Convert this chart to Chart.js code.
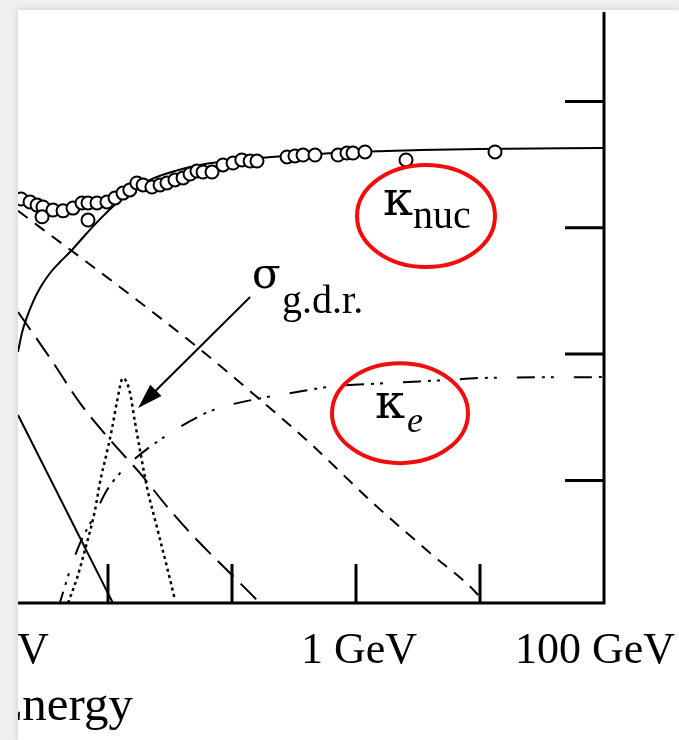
<!DOCTYPE html>
<html>
<head>
<meta charset="utf-8">
<title>Photon cross sections, Pb</title>
<script src="https://cdn.jsdelivr.net/npm/chart.js@4.4.1/dist/chart.umd.min.js"></script>
<style>
  html, body { margin:0; padding:0; background:#efefef; overflow:hidden; }
  #wrap { position:absolute; left:18px; top:10px; width:661px; height:730px; background:#fff;
          box-shadow:0 0 7px rgba(0,0,0,.14); }
  canvas { display:block; }
</style>
</head>
<body>
<div id="wrap"><canvas id="xsec" width="661" height="730"></canvas></div>
<script>
/* photon cross sections in lead
   energy in MeV, cross section in barns/atom, both on log axes */
const X_MIN = 1.88, X_MAX = 1e5;
const Y_MIN = 0.0107, Y_MAX = 510;

const xTickValues = [10, 100, 1000, 10000];
const yTickValues = [0.1, 1, 10, 100];
const xLabelValues = [1, 1000, 1e5];
const xLabelText = ['1 MeV', '1 GeV', '100 GeV'];

// measured total cross section (open circles)
const totE = [1.99,2.35,2.68,2.99,2.94,3.60,4.34,5.22,6.17,6.90,6.90,8.15,9.81,11.4,13.2,15.0,17.1,19.2,22.6,26.3,
              29.9,34.7,40.3,45.9,52.2,58.4,69.0,84.6,102,120,140,159,278,322,374,467,716,846,946,1182,2531,13213];
const totSigma = [16.9,16.0,15.1,14.6,12.2,13.8,13.6,14.3,15.7,15.7,11.5,15.7,16.0,17.2,18.8,19.9,22.6,21.8,21.0,21.8,
                  22.6,23.9,24.8,26.6,28.1,27.6,27.6,31.4,32.5,34.4,33.7,33.7,36.3,37.0,37.6,37.6,37.6,39.0,39.0,39.8,34.4,39.8];

// pair production, nuclear field
const kNucE = [1.88,2.03,2.22,2.48,2.83,3.41,4.10,4.94,6.77,8.62,11.8,15.9,21.8,34.7,55.2,140,354,981,3282,10000,100000];
const kNucSigma = [1.04,1.49,1.96,2.58,3.33,4.38,5.35,6.42,9.08,11.7,15.7,19.9,23.9,28.1,31.4,35.0,37.6,39.8,41.2,42.0,42.8];

// pair production, electron field
const kElecE = [3.95,4.94,5.95,7.57,9.81,12.5,15.0,21.8,40.3,70.3,192,334,584,1778,5418,10000,100000];
const kElecSigma = [0.0096,0.0195,0.0319,0.0503,0.0838,0.114,0.137,0.184,0.274,0.360,0.457,0.500,0.548,0.589,0.623,0.646,0.657];

// Rayleigh, photoelectric, Compton
const rayleighE = [1.88, 11.6];
const rayleighSigma = [0.329, 0.00957];
const photoE = [1.88,3.41,5.95,10.4,18.1,31.6,52.2,96.3,168];
const photoSigma = [2.15,0.93,0.409,0.209,0.114,0.0582,0.0337,0.0185,0.0107];
const comptonE = [1.88,2.48,5.95,15.9,52.2,159,426,1371,3954,10000,10772];
const comptonSigma = [13.6,11.1,5.86,2.83,1.14,0.457,0.197,0.0661,0.0266,0.0119,0.0107];

// giant dipole resonance
const gdrE = [4.76,5.62,6.52,7.86,8.62,9.81,10.8,11.8,13.2,15.0,16.5,18.1,20.6,24.8,29.9,34.7];
const gdrSigma = [0.0107,0.0168,0.0281,0.0582,0.0969,0.168,0.260,0.417,0.646,0.500,0.289,0.174,0.0885,0.0427,0.0206,0.0113];

const SERIF = '"Liberation Serif", "DejaVu Serif", serif';
const GREEK = '"DejaVu Serif", "Liberation Serif", serif';

function pts(xs, ys){ return xs.map((v, i) => ({ x: v, y: ys[i] })); }
function curve(xs, ys, dash, smooth, width){
  return {
    data: pts(xs, ys), showLine: true, fill: false,
    borderColor: '#000', borderWidth: width || 2, borderDash: dash,
    pointRadius: 0, pointHoverRadius: 0,
    tension: 0, cubicInterpolationMode: smooth ? 'monotone' : 'default',
    order: 1
  };
}

// label with a subscript
function symbol(ctx, px, py, main, mainFont, sub, subFont, dx, dy){
  ctx.font = mainFont; ctx.fillText(main, px, py);
  ctx.font = subFont; ctx.fillText(sub, px + dx, py + dy);
}
function ring(ctx, cx, cy, rx, ry){
  ctx.beginPath(); ctx.ellipse(cx, cy, rx, ry, 0, 0, Math.PI * 2); ctx.stroke();
}

const frame = {
  id: 'frame',
  afterDatasetsDraw(chart){
    const { ctx, chartArea: a, scales: { x, y } } = chart;
    ctx.save();
    ctx.strokeStyle = '#000'; ctx.fillStyle = '#000';
    ctx.lineWidth = 3; ctx.lineJoin = 'miter';

    // bottom and right axes
    ctx.beginPath();
    ctx.moveTo(a.left - 2, a.bottom); ctx.lineTo(a.right, a.bottom); ctx.lineTo(a.right, a.top);
    ctx.stroke();

    // ticks point inward
    ctx.beginPath();
    xTickValues.forEach(v => { const px = x.getPixelForValue(v); ctx.moveTo(px, a.bottom); ctx.lineTo(px, a.bottom - 39); });
    yTickValues.forEach(v => { const py = y.getPixelForValue(v); ctx.moveTo(a.right, py); ctx.lineTo(a.right - 39, py); });
    ctx.stroke();

    // energy labels
    ctx.font = '44px ' + SERIF; ctx.textAlign = 'center'; ctx.textBaseline = 'alphabetic';
    xLabelValues.forEach((v, i) => {
      const w = ctx.measureText(xLabelText[i]).width;
      const px = Math.min(x.getPixelForValue(v) + 3, chart.width - 4 - w / 2);
      ctx.fillText(xLabelText[i], px, a.bottom + 60);
    });
    ctx.font = '49px ' + SERIF; ctx.textAlign = 'right';
    ctx.fillText('Photon Energy', 115, a.bottom + 117);

    // curve labels
    ctx.textAlign = 'left';
    const nx = x.getPixelForValue(1651), ny = y.getPixelForValue(12.6);
    symbol(ctx, nx, ny, 'κ', '48px ' + GREEK, 'nuc', '40px ' + SERIF, 30, 13);
    const ex = x.getPixelForValue(1423), ey = y.getPixelForValue(0.311);
    symbol(ctx, ex, ey, 'κ', '48px ' + GREEK, 'e', 'italic 36px ' + SERIF, 32, 14);
    const gx = x.getPixelForValue(145), gy = y.getPixelForValue(3.33);
    symbol(ctx, gx, gy, 'σ', '42px ' + GREEK, 'g.d.r.', '40px ' + SERIF, 30, 25);

    // arrow to the resonance peak
    const x0 = x.getPixelForValue(140), y0 = y.getPixelForValue(2.83);
    const x1 = x.getPixelForValue(17.5), y1 = y.getPixelForValue(0.374);
    const ang = Math.atan2(y1 - y0, x1 - x0);
    ctx.lineWidth = 2;
    ctx.beginPath(); ctx.moveTo(x0, y0);
    ctx.lineTo(x1 - 20 * Math.cos(ang), y1 - 20 * Math.sin(ang)); ctx.stroke();
    ctx.beginPath();
    ctx.moveTo(x1, y1);
    ctx.lineTo(x1 - 25 * Math.cos(ang) + 8 * Math.sin(ang), y1 - 25 * Math.sin(ang) - 8 * Math.cos(ang));
    ctx.lineTo(x1 - 25 * Math.cos(ang) - 8 * Math.sin(ang), y1 - 25 * Math.sin(ang) + 8 * Math.cos(ang));
    ctx.closePath(); ctx.fill();

    // red rings round the pair-production labels
    ctx.strokeStyle = 'rgb(240,14,14)'; ctx.lineWidth = 4;
    ring(ctx, nx + 43, ny + 1, 69, 51);
    ring(ctx, ex + 25, ey - 5, 68, 50);
    ctx.restore();
  }
};

new Chart(document.getElementById('xsec'), {
  type: 'scatter',
  data: {
    datasets: [
      {
        data: pts(totE, totSigma), showLine: false,
        pointRadius: 6.5, pointHoverRadius: 6.5, pointBorderWidth: 2,
        pointBorderColor: '#000', pointBackgroundColor: '#fff', order: 0
      },
      curve(kNucE, kNucSigma, [], true),
      curve(kElecE, kElecSigma, [18, 7, 3, 6, 3, 20], true),
      curve(rayleighE, rayleighSigma, [], false),
      curve(photoE, photoSigma, [22, 10], true),
      curve(comptonE, comptonSigma, [12, 9], true),
      curve(gdrE, gdrSigma, [3, 3.5], true, 2.5)
    ]
  },
  options: {
    responsive: false,
    animation: false,
    devicePixelRatio: 1,
    layout: { autoPadding: false, padding: { left: 0, right: 75, top: 2, bottom: 137 } },
    plugins: { legend: { display: false }, tooltip: { enabled: false } },
    events: [],
    scales: {
      x: { type: 'logarithmic', min: X_MIN, max: X_MAX, display: false },
      y: { type: 'logarithmic', min: Y_MIN, max: Y_MAX, display: false }
    }
  },
  plugins: [frame]
});
</script>
</body>
</html>
